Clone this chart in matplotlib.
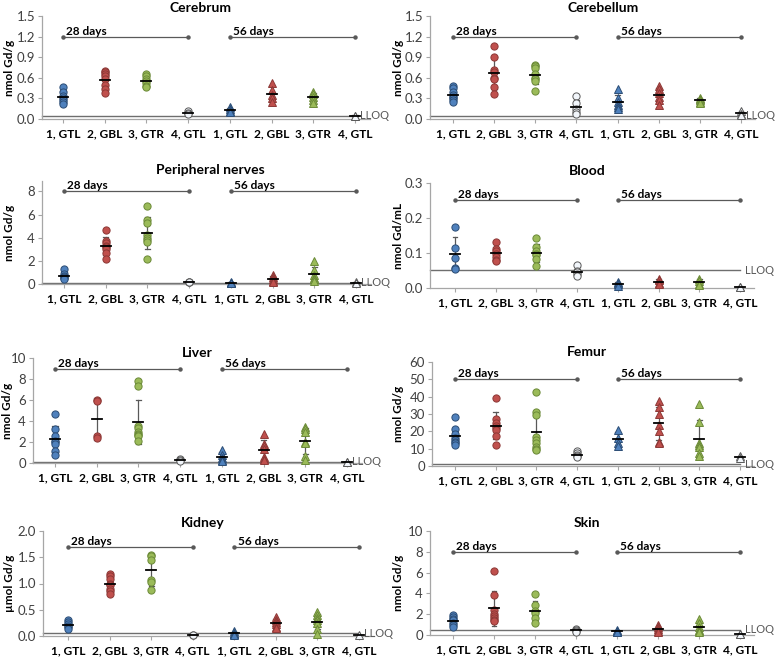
import numpy as np
import matplotlib
matplotlib.use('Agg')
import matplotlib.pyplot as plt

plt.rcParams['font.family'] = ['Lato', 'DejaVu Sans']

groups = ['1, GTL', '2, GBL', '3, GTR', '4, GTL', '1, GTL', '2, GBL', '3, GTR', '4, GTL']
periods = ['28 days', '56 days']

cerebrum = [[0.46, 0.40, 0.33, 0.30, 0.28, 0.25, 0.22],
            [0.70, 0.68, 0.65, 0.62, 0.58, 0.50, 0.44, 0.38],
            [0.65, 0.62, 0.58, 0.55, 0.52, 0.48, 0.46],
            [0.11, 0.09, 0.08],
            [0.17, 0.14, 0.12, 0.10],
            [0.52, 0.42, 0.35, 0.30, 0.25],
            [0.40, 0.36, 0.32, 0.28, 0.24],
            [0.05, 0.04]]
cerebellum = [[0.48, 0.45, 0.40, 0.35, 0.32, 0.30, 0.28, 0.25],
              [1.07, 0.91, 0.71, 0.68, 0.60, 0.58, 0.46, 0.37],
              [0.79, 0.77, 0.74, 0.66, 0.60, 0.58, 0.55, 0.41],
              [0.33, 0.23, 0.15, 0.10, 0.08],
              [0.43, 0.31, 0.25, 0.20, 0.17, 0.15],
              [0.48, 0.43, 0.38, 0.32, 0.28, 0.20],
              [0.31, 0.29, 0.27, 0.25, 0.23],
              [0.12, 0.08, 0.06]]
nerves = [[1.3, 0.9, 0.7, 0.6, 0.5, 0.4],
          [4.7, 3.7, 3.5, 3.3, 3.2, 3.0, 2.7, 2.2],
          [6.7, 5.5, 5.3, 4.2, 4.0, 3.8, 3.6, 2.2],
          [0.2, 0.2, 0.15],
          [0.2, 0.1, 0.05, 0.05],
          [0.8, 0.6, 0.4, 0.3, 0.2],
          [2.0, 1.2, 0.8, 0.5, 0.4, 0.3],
          [0.15, 0.1]]
blood = [[0.173, 0.115, 0.085, 0.057, 0.055],
         [0.131, 0.110, 0.105, 0.098, 0.088, 0.080, 0.078],
         [0.142, 0.118, 0.105, 0.098, 0.093, 0.082, 0.063],
         [0.066, 0.048, 0.045, 0.040, 0.033],
         [0.018, 0.014, 0.010, 0.006],
         [0.027, 0.022, 0.015, 0.010],
         [0.027, 0.020, 0.012, 0.008],
         [0.004, 0.002]]
liver = [[4.65, 3.25, 2.6, 2.1, 2.0, 1.8, 1.1, 0.8],
         [6.0, 5.9, 2.6, 2.4],
         [7.8, 7.3, 3.5, 3.3, 3.0, 2.8, 2.7, 2.6, 2.1],
         [0.4, 0.3, 0.2],
         [1.2, 0.8, 0.5, 0.3, 0.2],
         [2.8, 1.8, 1.6, 1.3, 0.6, 0.4, 0.3],
         [3.4, 3.2, 3.0, 2.0, 1.9, 0.7, 0.3],
         [0.1, 0.05]]
femur = [[28, 21.5, 18.5, 16, 15, 14, 13, 12],
         [39, 27, 25, 23, 22, 20.5, 17.5, 12],
         [42.5, 31, 29.5, 16.5, 15, 13, 11, 10, 9.5],
         [8.5, 7.5, 6.5, 5.5, 5],
         [21, 16, 13, 11.5],
         [37.5, 34, 30, 23.5, 20, 14, 13.5],
         [36, 25.5, 13, 12, 11, 7.5, 5.5],
         [5.5, 4.5]]
kidney = [[0.30, 0.26, 0.22, 0.20, 0.17, 0.13],
          [1.19, 1.14, 1.08, 1.00, 0.97, 0.90, 0.85, 0.80],
          [1.55, 1.52, 1.45, 1.07, 1.02, 0.88],
          [0.02, 0.01],
          [0.09, 0.06, 0.04, 0.03, 0.02],
          [0.36, 0.30, 0.26, 0.22, 0.18, 0.15],
          [0.46, 0.40, 0.34, 0.30, 0.25, 0.14, 0.04],
          [0.01]]
skin = [[1.9, 1.7, 1.5, 1.4, 1.2, 1.0, 0.8],
        [6.2, 3.8, 2.4, 2.0, 1.8, 1.6, 1.4, 1.3],
        [3.9, 2.9, 2.3, 2.1, 1.6, 1.2],
        [0.6, 0.5, 0.4, 0.3],
        [0.5, 0.4, 0.3, 0.25],
        [1.0, 0.8, 0.6, 0.4, 0.3],
        [1.5, 1.2, 0.8, 0.5, 0.35, 0.3],
        [0.1, 0.05]]

W, H = 777, 660
fig = plt.figure(figsize=(W / 100, H / 100), dpi=100)

fills = ['#4F81BD', '#C0504D', '#9BBB59', '#F2F6FB'] * 2
edges = ['#2C4D75', '#8C3836', '#6B8A38', '#595959'] * 2
markers = ['o'] * 4 + ['^'] * 4

panels = [
    ('Cerebrum', cerebrum, 'nmol Gd/g', [0, 0.3, 0.6, 0.9, 1.2, 1.5], 1.5, 1.2, 0.05, '%.1f',
     (42, 63, 355, 385, 16, 119), (200, 8), 10),
    ('Cerebellum', cerebellum, 'nmol Gd/g', [0, 0.3, 0.6, 0.9, 1.2, 1.5], 1.5, 1.2, 0.05, '%.1f',
     (430, 453, 741, 760, 16, 119), (603, 8), 398),
    ('Peripheral nerves', nerves, 'nmol Gd/g', [0, 2, 4, 6, 8], 8.9, 8, 0.1, '%d',
     (42, 64, 356, 385, 181, 284), (210, 170), 10),
    ('Blood', blood, 'nmol Gd/mL', [0, 0.1, 0.2, 0.3], 0.3, 0.25, 0.05, '%.1f',
     (430, 455, 740, 760, 183, 288), (587, 171), 398),
    ('Liver', liver, 'nmol Gd/g', [0, 2, 4, 6, 8, 10], 10, 9, 0.1, '%d',
     (33, 55, 347, 380, 358, 463), (197, 353), 8),
    ('Femur', femur, 'nmol Gd/g', [0, 10, 20, 30, 40, 50, 60], 60, 50, 1.0, '%d',
     (432, 455, 740, 760, 362, 466), (587, 352), 398),
    ('Kidney', kidney, '\u00b5mol Gd/g', [0, 0.5, 1.0, 1.5, 2.0], 2.0, 1.7, 0.05, '%.1f',
     (43, 68, 359, 385, 531, 636), (203, 523), 10),
    ('Skin', skin, 'nmol Gd/g', [0, 2, 4, 6, 8, 10], 10, 8, 0.5, '%d',
     (430, 453, 740, 760, 531, 635), (587, 523), 398),
]

axis_col = '#A6A6A6'
for (name, data, ylab, yticks, ytop, py, lloq, fmt, px, tpos, ylx) in panels:
    sx, c1, c8, rx, ty, by = px
    sp = (c8 - c1) / 7.0
    xl = 1 - (c1 - sx) / sp
    xr = 8 + (rx - c8) / sp
    ax = fig.add_axes([sx / W, 1 - by / H, (rx - sx) / W, (by - ty) / H])
    ax.set_xlim(xl, xr)
    ax.set_ylim(0, ytop)
    for s in ['top', 'right']:
        ax.spines[s].set_visible(False)
    for s in ['left', 'bottom']:
        ax.spines[s].set_color(axis_col)
        ax.spines[s].set_linewidth(0.9)
    ax.spines['bottom'].set_bounds(xl, 8 + 0.35)
    ax.set_yticks(yticks)
    ax.set_yticklabels([fmt % v for v in yticks])
    ax.tick_params(axis='y', length=3, color=axis_col, labelsize=9.5, labelcolor='#404040', pad=2)
    ax.set_xticks(range(1, 9))
    ax.set_xticklabels(groups, fontweight='bold', fontsize=8.6)
    ax.tick_params(axis='x', length=3, color=axis_col, pad=4)

    # LLOQ line
    ax.plot([xl, 8], [lloq, lloq], color='#6E6E6E', lw=1.0, zorder=1, clip_on=False)
    ax.text(8 + 0.12, lloq, 'LLOQ', color='#595959', fontsize=8, va='center', ha='left')

    # period lines
    for k, lab in enumerate(periods):
        a, b = 1 + 4 * k, 4 + 4 * k
        ax.plot([a, b], [py, py], color='#595959', lw=0.9, marker='o', ms=2.2, clip_on=False, zorder=2)
        ax.text(a + 0.08, py, lab, fontsize=8.5, fontweight='bold', va='bottom', ha='left')

    for i, vals in enumerate(data):
        x = i + 1
        v = np.array(vals, dtype=float)
        m = v.mean()
        sd = v.std(ddof=1) if len(v) > 1 else 0.0
        if sd > 0:
            ax.plot([x, x], [m - sd, m + sd], color='#595959', lw=0.9, zorder=2)
            for yy in (m - sd, m + sd):
                ax.plot([x - 0.06, x + 0.06], [yy, yy], color='#595959', lw=0.9, zorder=2)
        ax.plot(np.full(len(v), x), v, linestyle='none', marker=markers[i], ms=5.2,
                mfc=fills[i], mec=edges[i], mew=0.7, zorder=3, clip_on=False)
        ax.plot([x - 0.12, x + 0.12], [m, m], color='black', lw=1.3, zorder=4)

    fig.text(tpos[0] / W, 1 - tpos[1] / H, name, fontsize=10, fontweight='bold', ha='center', va='center')
    fig.text(ylx / W, 1 - (ty + by) / 2 / H, ylab, fontsize=8.5, fontweight='bold', rotation=90,
             ha='center', va='center')

fig.savefig('out.png', dpi=100, facecolor='white')
